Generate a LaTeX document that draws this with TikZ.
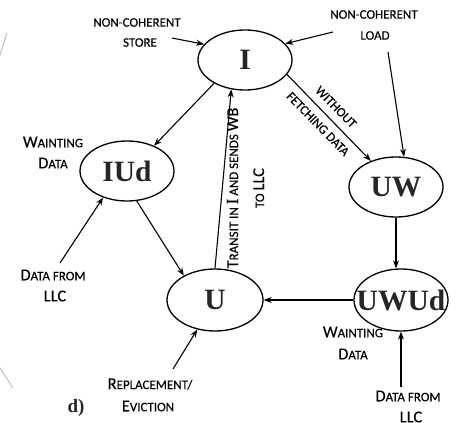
\documentclass[tikz,border=0pt]{standalone}
\usepackage{fontspec}
\setmainfont{Liberation Serif}
\newfontfamily\lblfont[FakeBold=0.25]{Carlito}
\newfontfamily\serifI[FakeBold=0.25]{Liberation Serif}
\usetikzlibrary{shapes.geometric,arrows.meta}
\newcommand\SC[1]{{\fontsize{13}{15}\selectfont #1}}
\newcommand\BC[1]{{\fontsize{16.5}{18}\selectfont #1}}
\tikzset{
  st/.style={draw, ellipse, line width=1.3pt, minimum width=94pt, minimum height=60pt, inner sep=0pt},
  stname/.style={font=\bfseries\fontsize{29.5}{30}\selectfont, inner sep=0pt, text=black!85},
  lbl/.style={font=\lblfont, align=center, inner sep=0pt, text=black},
  arr/.style={line width=1.1pt, -{Stealth[length=8pt,width=6pt]}},
  faint/.style={draw=black!25, line width=1pt}
}
\begin{document}
\begin{tikzpicture}[x=1pt,y=-1pt]
\useasboundingbox (0,0) rectangle (461,423);
% states
\node[st] (I) at (245,60) {};
\node[stname] (Itx) at (I) {I};
\node[st] (IUd) at (127,171) {};
\node[stname] (IUdtx) at (IUd) {IUd};
\node[st] (UW) at (396,187) {};
\node[stname] (UWtx) at (UW) {UW};
\node[st, minimum width=96pt, minimum height=62pt] (U) at (215,300) {};
\node[stname] (Utx) at (U) {U};
\node[st, minimum height=62pt] (UWUd) at (401,300) {};
\node[stname] (UWUdtx) at (UWUd) {UWUd};
% labels
\node[lbl] (nc1) at (137,22.5) {\SC{NON-COHERENT}};
\node[lbl] (store) at (140,42.5) {\SC{STORE}};
\node[lbl] (nc2) at (374,14.5) {\SC{NON-COHERENT}};
\node[lbl] (load) at (375,35.5) {\SC{LOAD}};
\node[lbl] (wait1) at (53,142) {\BC{W}\SC{AINTING}};
\node[lbl] (wdata1) at (53,163) {\BC{D}\SC{ATA}};
\node[lbl] (dfrom1) at (53,275) {\BC{D}\SC{ATA FROM}};
\node[lbl] (llc1) at (55,296) {\BC{LLC}};
\node[lbl] (wait2) at (353,332) {\BC{W}\SC{AINTING}};
\node[lbl] (wdata2) at (353,354) {\BC{D}\SC{ATA}};
\node[lbl] (repl) at (150,384) {\BC{R}\SC{EPLACEMENT/}};
\node[lbl] (evic) at (148,406) {\BC{E}\SC{VICTION}};
\node[lbl] (dfrom2) at (408,396) {\BC{D}\SC{ATA FROM}};
\node[lbl] (llc2) at (411,417) {\BC{LLC}};
\node[lbl, rotate=-45.7] (without) at (336,107) {\SC{WITHOUT}};
\node[lbl, rotate=-45.7] (fetch) at (318,124) {\SC{FETCHING DATA}};
\node[lbl, rotate=90, font=\lblfont\fontsize{13}{26}\selectfont] (transit) at (245.5,188)
  {\BC{T}\SC{RANSIT IN} {\serifI\fontsize{17}{18}\selectfont I} \SC{AND SENDS} \BC{WB}\\\SC{TO} \BC{LLC}};
\node[font=\bfseries\fontsize{19}{19}\selectfont, inner sep=0pt, text=black!85] (d) at (76,408) {d)};
\node[font=\lblfont\fontsize{22}{22}\selectfont, text=black!30, inner sep=0pt] (pg) at (345,432) {21};
% free ends
\coordinate (cstore) at (172,38);
\coordinate (cload) at (333,32);
\coordinate (cload2) at (388,52);
\coordinate (cdl1) at (60,263);
\coordinate (crep) at (173,369);
\coordinate (cdl2) at (401,387);
% connectors
\draw[arr] (cstore) -- (I.159);
\draw[arr] (cload) -- (I.22);
\draw[arr] (cload2) -- (UW.75);
\draw[arr] (I.217) -- (IUd.43);
\draw[arr] (I.341) -- (UW.134);
\draw[arr] (U.north) -- (I.245);
\draw[arr] (IUd.288) -- (U.142);
\draw[arr] (cdl1) -- (IUd.228);
\draw[arr] (UW.south) -- (UW.south |- UWUd.north);
\draw[arr] (UWUd.west) -- (U.east);
\draw[arr] (crep) -- (U.239);
\draw[arr] (cdl2) -- (UWUd.south);
% faint scan marks
\draw[faint] (7,33) -- (0,55);
\draw[faint] (0,368) -- (13,388);
\end{tikzpicture}
\end{document}
